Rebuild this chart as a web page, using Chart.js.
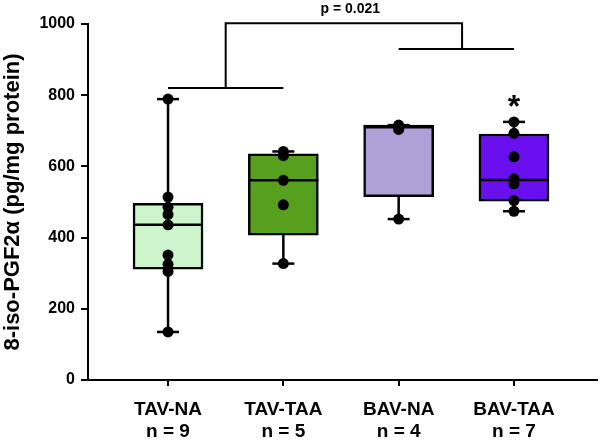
<!DOCTYPE html>
<html>
<head>
<meta charset="utf-8">
<script src="https://cdn.jsdelivr.net/npm/chart.js@4.4.1/dist/chart.umd.min.js"></script>
<style>
  html, body { margin: 0; padding: 0; background: #fff; }
  #wrap { width: 600px; height: 440px; }
</style>
</head>
<body>
<div id="wrap"><canvas id="boxChart"></canvas></div>
<script>
const categories = ['TAV-NA', 'TAV-TAA', 'BAV-NA', 'BAV-TAA'];
const nLabels = ['n = 9', 'n = 5', 'n = 4', 'n = 7'];
const boxColors = ['#ccf5cc', '#56a01e', '#b0a0d8', '#6a10f0'];

// individual samples per group
const samples = [
    [789, 514, 485, 465, 436, 351, 325, 305, 135],
    [642, 630, 561, 492, 327],
    [716, 712, 704, 452],
    [725, 693, 627, 565, 551, 504, 474]
];

// box summary per group
const q1Vals = [311, 407, 515, 502];
const medianVals = [436, 561, 710, 562];
const q3Vals = [496, 635, 716, 691];
const minVals = [135, 327, 452, 474];
const maxVals = [789, 642, 716, 725];

const yTicks = [0, 200, 400, 600, 800, 1000];

// significance annotation: [from group, to group, y level]
const groupBars = [[1, 2, 820], [3, 4, 930]];
const joinBar = [1.5, 3.55, 1002];
const pText = 'p = 0.021';
const starGroup = 4;
const starValue = 790;

const FONT = "'Liberation Sans', Arial, sans-serif";

const boxData = categories.map((c, i) => ({ x: i + 1, y: [q1Vals[i], q3Vals[i]] }));
const medianData = categories.map((c, i) => ({ x: i + 1, y: medianVals[i] }));
const capData = [];
const dotData = [];
categories.forEach((c, i) => {
    capData.push({ x: i + 1, y: minVals[i] });
    capData.push({ x: i + 1, y: maxVals[i] });
    samples[i].forEach(v => dotData.push({ x: i + 1, y: v }));
});

const whiskerSets = categories.map((c, i) => ({
    type: 'line',
    data: [{ x: i + 1, y: minVals[i] }, { x: i + 1, y: maxVals[i] }],
    borderColor: '#000',
    borderWidth: 2.5,
    pointRadius: 0,
    order: 5
}));

const annotations = {
    id: 'annotations',
    afterDatasetsDraw(chart) {
        const { ctx, scales: { x, y } } = chart;
        ctx.save();
        ctx.strokeStyle = '#000';
        ctx.lineWidth = 2;
        groupBars.forEach(b => {
            ctx.beginPath();
            ctx.moveTo(x.getPixelForValue(b[0]), y.getPixelForValue(b[2]));
            ctx.lineTo(x.getPixelForValue(b[1]), y.getPixelForValue(b[2]));
            ctx.stroke();
        });
        const topY = y.getPixelForValue(joinBar[2]);
        ctx.beginPath();
        ctx.moveTo(x.getPixelForValue(joinBar[0]), y.getPixelForValue(groupBars[0][2]));
        ctx.lineTo(x.getPixelForValue(joinBar[0]), topY);
        ctx.lineTo(x.getPixelForValue(joinBar[1]), topY);
        ctx.lineTo(x.getPixelForValue(joinBar[1]), y.getPixelForValue(groupBars[1][2]));
        ctx.stroke();

        ctx.fillStyle = '#000';
        ctx.textAlign = 'center';
        ctx.textBaseline = 'middle';
        ctx.font = 'bold 14px ' + FONT;
        ctx.fillText(pText, x.getPixelForValue(2.58), topY - 14);

        ctx.textBaseline = 'alphabetic';
        ctx.font = 'bold 32px ' + FONT;
        ctx.fillText('*', x.getPixelForValue(starGroup), y.getPixelForValue(starValue) + 18);
        ctx.restore();
    }
};

const ctxBox = document.getElementById('boxChart').getContext('2d');
new Chart(ctxBox, {
    type: 'bar',
    data: {
        datasets: [
            ...whiskerSets,
            {
                type: 'bar',
                data: boxData,
                backgroundColor: boxColors,
                borderColor: '#000',
                borderWidth: 2.5,
                borderSkipped: false,
                barThickness: 70,
                order: 4
            },
            {
                type: 'scatter',
                data: medianData,
                pointStyle: 'line',
                pointRadius: 35,
                borderColor: '#000',
                borderWidth: 2.5,
                order: 3
            },
            {
                type: 'scatter',
                data: capData,
                pointStyle: 'line',
                pointRadius: 11,
                borderColor: '#000',
                borderWidth: 2.5,
                order: 2
            },
            {
                type: 'scatter',
                data: dotData,
                pointRadius: 5.5,
                backgroundColor: '#000',
                borderColor: '#000',
                borderWidth: 0,
                order: 1
            }
        ]
    },
    plugins: [annotations],
    options: {
        responsive: true,
        maintainAspectRatio: false,
        animation: false,
        layout: {
            autoPadding: false,
            padding: { top: 24, right: 3, bottom: 0, left: 0 }
        },
        plugins: {
            legend: { display: false },
            tooltip: { enabled: false }
        },
        scales: {
            x: {
                type: 'linear',
                offset: false,
                min: 0.306,
                max: 4.72,
                afterBuildTicks: scale => {
                    scale.ticks = categories.map((c, i) => ({ value: i + 1 }));
                },
                afterFit: scale => { scale.height = 60; },
                ticks: {
                    callback: v => [categories[v - 1], nLabels[v - 1]],
                    color: '#000',
                    padding: 13,
                    font: { family: FONT, size: 19, weight: 'bold', lineHeight: 1.15 },
                    maxRotation: 0
                },
                grid: {
                    offset: false,
                    drawOnChartArea: false,
                    drawTicks: true,
                    tickLength: 6,
                    color: '#000',
                    lineWidth: 2
                },
                border: { display: true, color: '#000', width: 2 }
            },
            y: {
                min: 0,
                max: 1000,
                afterBuildTicks: scale => {
                    scale.ticks = yTicks.map(v => ({ value: v }));
                },
                afterFit: scale => { scale.width = 88; },
                ticks: {
                    callback: v => String(v),
                    color: '#000',
                    padding: 6,
                    font: { family: FONT, size: 16, weight: 'bold' }
                },
                grid: {
                    drawOnChartArea: false,
                    drawTicks: true,
                    tickLength: 7,
                    color: '#000',
                    lineWidth: 2
                },
                border: { display: true, color: '#000', width: 2 },
                title: {
                    display: true,
                    text: '8-iso-PGF2\u03b1 (pg/mg protein)',
                    color: '#000',
                    padding: 0,
                    font: { family: FONT, size: 22, weight: 'bold' }
                }
            }
        }
    }
});
</script>
</body>
</html>
